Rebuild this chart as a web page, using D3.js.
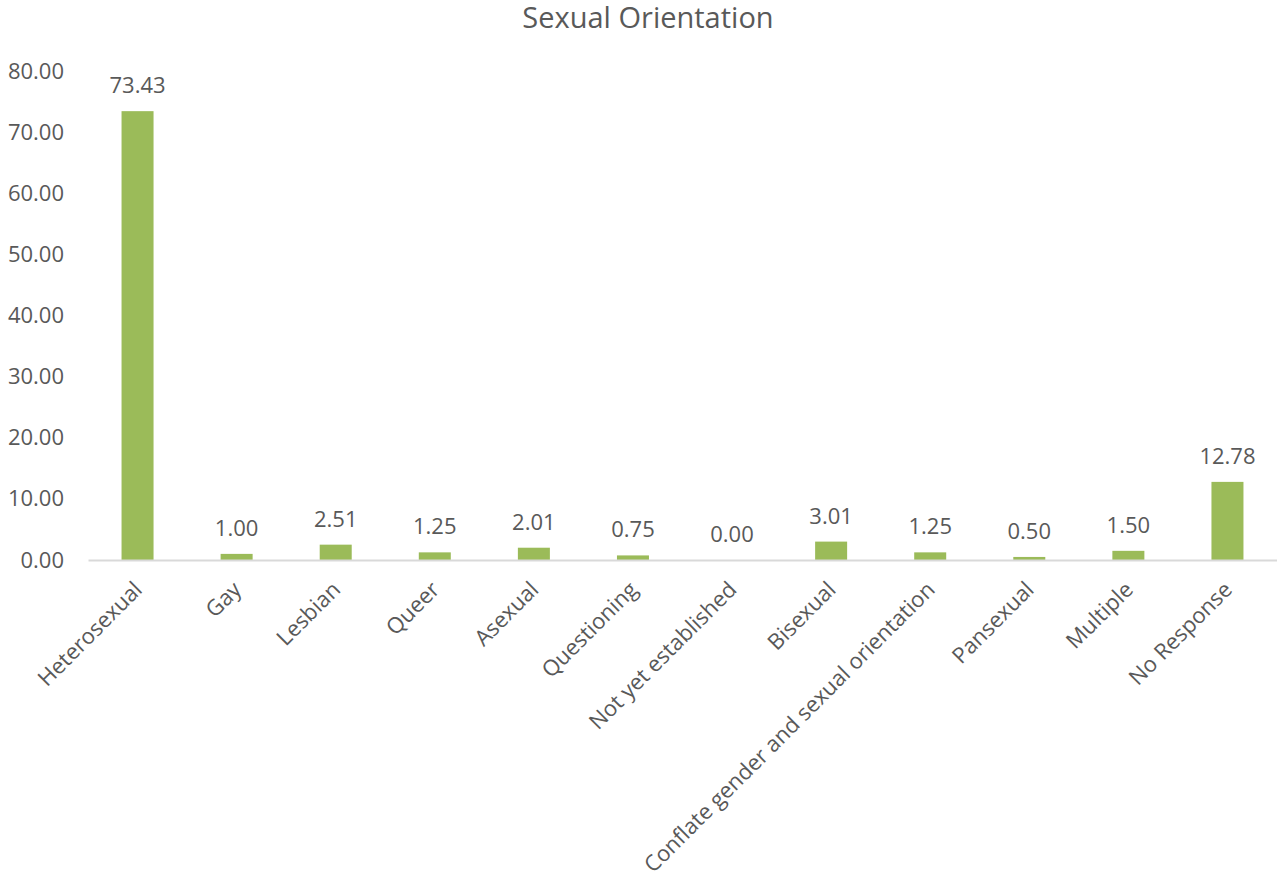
<!DOCTYPE html>
<html><head><meta charset="utf-8">
<script src="https://cdn.jsdelivr.net/npm/d3@7"></script>
<style>body{margin:0;background:#fff}text{font-family:"Open Sans",sans-serif;fill:#595959}</style>
</head><body><svg id="c" width="1277" height="882"></svg>
<script>
const categories = ["Heterosexual","Gay","Lesbian","Queer","Asexual","Questioning","Not yet established","Bisexual","Conflate gender and sexual orientation","Pansexual","Multiple","No Response"];
const values = [73.43,1.00,2.51,1.25,2.01,0.75,0.00,3.01,1.25,0.50,1.50,12.78];
const yTicks = [0,10,20,30,40,50,60,70,80];
const title = "Sexual Orientation";

(function(){
const svg = d3.select("#c");
const mLeft = 88, mRight = 1277, mTop = 71, mBottom = 560;
const x = d3.scaleBand().domain(categories).range([mLeft, mRight]).paddingInner(0.677).paddingOuter(0.3385);
const y = d3.scaleLinear().domain([0,80]).range([mBottom, mTop]);

svg.append("text").attr("x", 648).attr("y", 28).attr("text-anchor","middle").style("font-size","29px").text(title);

const ya = svg.append("g").attr("transform",`translate(${mLeft},0)`)
  .call(d3.axisLeft(y).tickValues(yTicks).tickFormat(d3.format(".2f")).tickSize(0).tickPadding(24));
ya.select(".domain").remove();
ya.selectAll("text").style("font-size","22px").attr("fill","#595959").style("font-family","'Open Sans',sans-serif");

svg.selectAll("rect.bar").data(values).join("rect").attr("class","bar")
  .attr("x",(d,i)=>x(categories[i])).attr("width",x.bandwidth())
  .attr("y",d=>y(d)).attr("height",d=>mBottom-y(d)).attr("fill","#9bbb59");

const xa = svg.append("g").attr("transform",`translate(0,${mBottom})`)
  .call(d3.axisBottom(x).tickSize(0).tickSizeOuter(0).tickPadding(0));
xa.select(".domain").attr("stroke","#d9d9d9").attr("stroke-width",2);
xa.selectAll("text").style("font-size","22px").attr("fill","#595959").style("font-family","'Open Sans',sans-serif")
  .attr("text-anchor","end").attr("dy",null).attr("y",0)
  .attr("transform","translate(6,31) rotate(-45)");

svg.selectAll("text.val").data(values).join("text").attr("class","val")
  .attr("x",(d,i)=>x(categories[i])+x.bandwidth()/2).attr("y",d=>y(d)-18)
  .attr("text-anchor","middle").style("font-size","22px").text(d=>d.toFixed(2));
})();
</script></body></html>
